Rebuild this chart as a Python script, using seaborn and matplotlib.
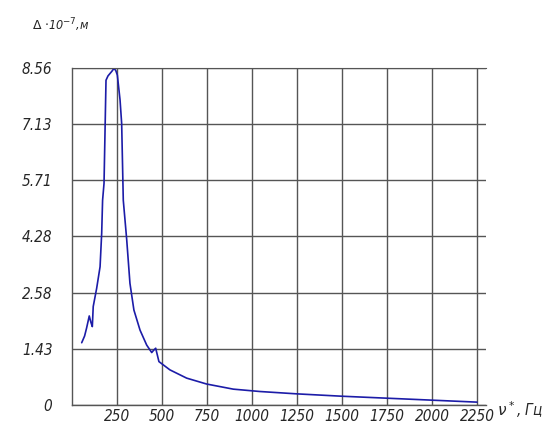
import numpy as np
import pandas as pd
import matplotlib
matplotlib.use('Agg')
import matplotlib.pyplot as plt
import seaborn as sns

# частота, Гц
freq = [54, 70, 81, 96, 105, 113, 118, 137, 156, 165, 170, 178, 189, 200, 211,
        222, 233, 243, 252, 267, 276, 285, 304, 322, 344, 378, 415, 443, 452,
        465, 483, 544, 637, 748, 896, 1044, 1250, 1500, 1750, 2000, 2250]
# амплитуда, *1e-7 м
ampl = [1.58, 1.75, 1.95, 2.26, 2.10, 1.99, 2.50, 2.96, 3.51, 4.36, 5.20, 5.63,
        8.25, 8.36, 8.42, 8.48, 8.55, 8.50, 8.38, 7.75, 7.15, 5.20, 4.20, 3.09,
        2.41, 1.90, 1.52, 1.33, 1.38, 1.44, 1.10, 0.89, 0.68, 0.53, 0.40, 0.34,
        0.28, 0.22, 0.17, 0.12, 0.07]

x_ticks = [250, 500, 750, 1000, 1250, 1500, 1750, 2000, 2250]
y_labels = ['0', '1.43', '2.58', '4.28', '5.71', '7.13', '8.56']

df = pd.DataFrame({'freq': freq, 'ampl': ampl})

sns.set_style('white')
plt.rcParams['font.family'] = ['DejaVu Sans']

fig = plt.figure(figsize=(5.58, 4.28), dpi=100)
ax = fig.add_axes([0.129, 0.054, 0.742, 0.787])

sns.lineplot(data=df, x='freq', y='ampl', ax=ax, color='#1c1ca8', linewidth=1.2)

tick_font = dict(fontsize=11, style='italic', stretch='condensed')
ax.set_xlim(0, 2300)
ax.set_ylim(0, 8.56)
ax.set_xticks(x_ticks)
ax.set_xticklabels([str(t) for t in x_ticks], **tick_font)
yt = np.linspace(0, 8.56, 7)
ax.set_yticks(yt)
ax.set_yticklabels(y_labels, **tick_font)
ax.tick_params(axis='x', length=0, pad=3)
ax.tick_params(axis='y', length=0, pad=14)

ax.grid(True, color='#555555', linewidth=1.0)
ax.set_axisbelow(True)
for s in ['left', 'bottom']:
    ax.spines[s].set_color('#555555')
    ax.spines[s].set_linewidth(1.0)
ax.spines['top'].set_color('#555555')
ax.spines['right'].set_visible(False)

ax.set_xlabel('')
ax.set_ylabel('')
fig.text(0.058, 0.93, r'$\Delta$ $\cdot$10$^{-7}$,м', fontsize=9, style='italic',
         stretch='condensed')
fig.text(0.89, 0.028, r'$\nu^*$, Гц', fontsize=11, style='italic', stretch='condensed')

fig.savefig('out.png', dpi=100)
